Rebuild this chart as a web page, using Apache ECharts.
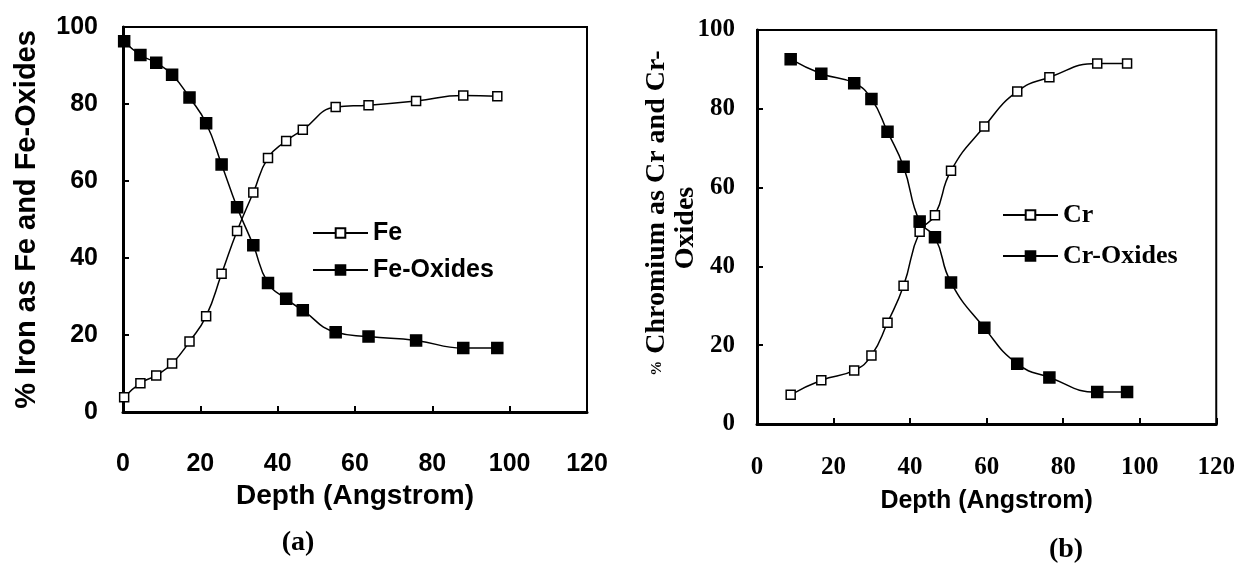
<!DOCTYPE html>
<html>
<head>
<meta charset="utf-8">
<script src="https://cdn.jsdelivr.net/npm/echarts@6/dist/echarts.min.js"></script>
<style>
  html, body { margin: 0; padding: 0; background: #fff; }
  #chart { width: 1238px; height: 570px; }
</style>
</head>
<body>
<div id="chart"></div>
<script>
// Panel (a): iron depth profile
const depthFe  = [0.3, 4.5, 8.6, 12.7, 17.2, 21.5, 25.5, 29.5, 33.7, 37.5, 42.2, 46.5, 55, 63.5, 75.8, 88, 96.8];
const feMetal  = [3.8, 7.5, 9.5, 12.6, 18.3, 24.9, 35.9, 47, 57, 66, 70.4, 73.3, 79.2, 79.7, 80.8, 82.2, 82];
const feOxide  = [96.3, 92.7, 90.7, 87.6, 81.7, 75, 64.3, 53.2, 43.3, 33.5, 29.4, 26.4, 20.7, 19.6, 18.6, 16.6, 16.6];

// Panel (b): chromium depth profile
const depthCr  = [8.8, 16.8, 25.4, 29.9, 34.1, 38.3, 42.5, 46.5, 50.7, 59.4, 68, 76.4, 88.9, 96.7];
const crMetal  = [7.4, 11.1, 13.6, 17.4, 25.7, 35.1, 48.8, 53, 64.3, 75.5, 84.4, 88, 91.5, 91.5];
const crOxide  = [92.6, 88.9, 86.5, 82.5, 74.2, 65.3, 51.4, 47.4, 35.9, 24.4, 15.3, 11.8, 8.1, 8.1];

const seriesNames = ['Fe', 'Fe-Oxides', 'Cr', 'Cr-Oxides'];
const xTitle = 'Depth (Angstrom)';
const yTitleFe = '% Iron as Fe and Fe-Oxides';
const yTitleCr1 = '{p|%} Chromium as Cr and Cr-';
const yTitleCr2 = 'Oxides';
const panelLabels = ['(a)', '(b)'];

const SANS = "'Liberation Sans', Arial, sans-serif";
const SERIF = "'Liberation Serif', 'Times New Roman', serif";

const pairs = (xs, ys) => xs.map((x, i) => [x, ys[i]]);

function xAxisFor(grid, font, labelMargin, nameGap, labelSize, nameSize) {
  return {
    gridIndex: grid, type: 'value', min: 0, max: 120, interval: 20,
    axisLine: { show: true, onZero: false, lineStyle: { color: '#000', width: 3 } },
    axisTick: { show: true, inside: true, length: 6, lineStyle: { color: '#000', width: 2 } },
    splitLine: { show: false },
    axisLabel: { margin: labelMargin, color: '#000', fontFamily: font, fontWeight: 'bold', fontSize: labelSize },
    name: xTitle, nameLocation: 'middle', nameGap: nameGap,
    nameTextStyle: { color: '#000', fontFamily: SANS, fontWeight: 'bold', fontSize: nameSize }
  };
}

function yAxisFor(grid, font, labelMargin, labelSize) {
  return {
    gridIndex: grid, type: 'value', min: 0, max: 100, interval: 20,
    axisLine: { show: true, onZero: false, lineStyle: { color: '#000', width: 3 } },
    axisTick: { show: true, inside: true, length: 6, lineStyle: { color: '#000', width: 2 } },
    splitLine: { show: false },
    axisLabel: { margin: labelMargin, color: '#000', fontFamily: font, fontWeight: 'bold', fontSize: labelSize }
  };
}

function lineSeries(name, axis, data, filled) {
  return {
    type: 'line', name: name, xAxisIndex: axis, yAxisIndex: axis,
    data: data, smooth: true,
    symbol: 'rect', symbolSize: filled ? 11 : 9,
    lineStyle: { color: '#000', width: 1.5 },
    itemStyle: { color: filled ? '#000' : '#fff', borderColor: '#000', borderWidth: 1.5 },
    emphasis: { disabled: true },
    z: 3
  };
}

const yFe = yAxisFor(0, SANS, 25, 25);
yFe.name = yTitleFe;
yFe.nameLocation = 'middle';
yFe.nameRotate = 90;
yFe.nameGap = 82;
yFe.nameTextStyle = { color: '#000', fontFamily: SANS, fontWeight: 'bold', fontSize: 29 };

const option = {
  animation: false,
  backgroundColor: '#fff',
  grid: [
    { left: 123, top: 27, width: 464, height: 385, show: true, borderColor: '#000', borderWidth: 2 },
    { left: 757, top: 30, width: 460, height: 394, show: true, borderColor: '#000', borderWidth: 2 }
  ],
  xAxis: [
    xAxisFor(0, SANS, 40, 67, 25, 28),
    xAxisFor(1, SERIF, 31, 65, 25, 25)
  ],
  yAxis: [
    yFe,
    yAxisFor(1, SERIF, 22, 25)
  ],
  legend: [
    {
      data: [seriesNames[0], seriesNames[1]], orient: 'vertical', left: 307, top: 213,
      itemWidth: 55, itemHeight: 12, itemGap: 7, selectedMode: false,
      textStyle: { color: '#000', fontFamily: SANS, fontWeight: 'bold', fontSize: 25, lineHeight: 30 }
    },
    {
      data: [seriesNames[2], seriesNames[3]], orient: 'vertical', left: 997, top: 195,
      itemWidth: 55, itemHeight: 12, itemGap: 11, selectedMode: false,
      textStyle: { color: '#000', fontFamily: SERIF, fontWeight: 'bold', fontSize: 26, lineHeight: 30 }
    }
  ],
  series: [
    lineSeries(seriesNames[0], 0, pairs(depthFe, feMetal), false),
    lineSeries(seriesNames[1], 0, pairs(depthFe, feOxide), true),
    lineSeries(seriesNames[2], 1, pairs(depthCr, crMetal), false),
    lineSeries(seriesNames[3], 1, pairs(depthCr, crOxide), true)
  ],
  graphic: [
    {
      type: 'text', x: 657, y: 213, rotation: Math.PI / 2,
      style: {
        text: yTitleCr1, fill: '#000', font: 'bold 28px ' + SERIF,
        align: 'center', verticalAlign: 'middle',
        rich: { p: { fontSize: 15, fontFamily: SERIF, fontWeight: 'bold', fill: '#000' } }
      }
    },
    {
      type: 'text', x: 686, y: 228, rotation: Math.PI / 2,
      style: { text: yTitleCr2, fill: '#000', font: 'bold 28px ' + SERIF, align: 'center', verticalAlign: 'middle' }
    },
    {
      type: 'text', x: 298, y: 543,
      style: { text: panelLabels[0], fill: '#000', font: 'bold 28px ' + SERIF, align: 'center', verticalAlign: 'middle' }
    },
    {
      type: 'text', x: 1066, y: 550,
      style: { text: panelLabels[1], fill: '#000', font: 'bold 28px ' + SERIF, align: 'center', verticalAlign: 'middle' }
    }
  ]
};

const chart = echarts.init(document.getElementById('chart'), null, { renderer: 'canvas' });
chart.setOption(option);
</script>
</body>
</html>
